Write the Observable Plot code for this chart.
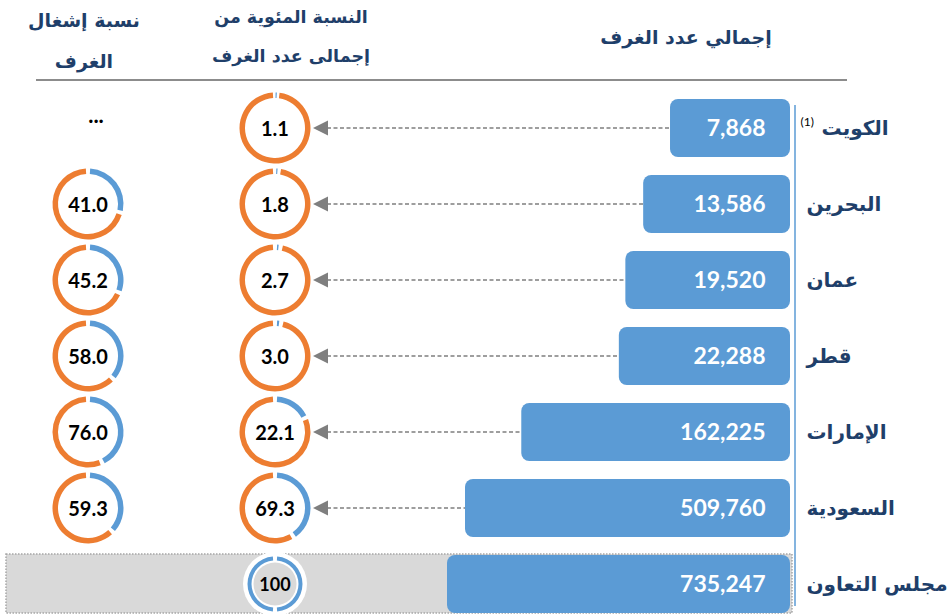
<!DOCTYPE html>
<html>
<head>
<meta charset="utf-8">
<script src="https://cdn.jsdelivr.net/npm/d3@7"></script>
<script src="https://cdn.jsdelivr.net/npm/@observablehq/plot@0.6"></script>
<style>
  body { margin: 0; background: #ffffff; }
  #chart svg { display: block; }
</style>
</head>
<body>
<div id="chart"></div>
<script>
// ---------- data ----------
const countries = ["الكويت", "البحرين", "عمان", "قطر", "الإمارات", "السعودية", "مجلس التعاون"];
const rooms = [7868, 13586, 19520, 22288, 162225, 509760, 735247];
const shareOfTotal = [1.1, 1.8, 2.7, 3.0, 22.1, 69.3, 100];
const shareLabels = ["1.1", "1.8", "2.7", "3.0", "22.1", "69.3", "100"];
const occupancy = [null, 41.0, 45.2, 58.0, 76.0, 59.3, null];
const occupancyLabels = ["...", "41.0", "45.2", "58.0", "76.0", "59.3", ""];
const notes = ["(1)", "", "", "", "", "", ""];
const headerRooms = ["إجمالي عدد الغرف"];
const headerShare = ["النسبة المئوية من", "إجمالى عدد الغرف"];
const headerOccupancy = ["نسبة إشغال", "الغرف"];

const rows = countries.map((c, i) => ({
  country: c, rooms: rooms[i], share: shareOfTotal[i], shareLabel: shareLabels[i],
  occ: occupancy[i], occLabel: occupancyLabels[i], note: notes[i], total: i === countries.length - 1
}));

// ---------- style ----------
const BLUE = "#5B9BD5", ORANGE = "#ED7D31", NAVY = "#1F3F6A", GREY = "#7F7F7F";
const ARABIC = "'DejaVu Sans', sans-serif";
const NUM = "Lato, 'Open Sans', sans-serif";
const base = 685; // origin of the (log) bar scale
const colShareX = 275, colOccX = 88;

function donut(g, cx, cy, v, r0, r1, colors) {
  const slices = d3.pie().sort(null)([v, 100]);
  const rm = (r0 + r1) / 2, gap = 4 / rm;
  const arc = d3.arc().innerRadius(r0).outerRadius(r1);
  slices.forEach((p, i) => {
    let a0 = p.startAngle + gap / 2, a1 = p.endAngle - gap / 2;
    if (a1 - a0 < 0.035) {
      const m = (p.startAngle + p.endAngle) / 2;
      a0 = m - 0.0175; a1 = m + 0.0175;
    }
    g.append("path")
      .attr("transform", `translate(${cx},${cy})`)
      .attr("d", arc({startAngle: a0, endAngle: a1}))
      .attr("fill", colors[i]);
  });
}

function overlay(index, scales) {
  const x = scales.x, y = scales.y;
  const bw = y.bandwidth ? y.bandwidth() : 0;
  const yc = c => y(c) + bw / 2;
  const g = d3.create("svg:g");

  // header rule
  g.append("line").attr("x1", 36).attr("x2", 847).attr("y1", 80).attr("y2", 80)
    .attr("stroke", "#8c8c8c").attr("stroke-width", 2);

  // headers
  const hdr = (lines, cx, ys, size) => lines.forEach((t, i) =>
    g.append("text").attr("x", cx).attr("y", ys[i]).attr("text-anchor", "middle")
      .attr("dominant-baseline", "middle").attr("font-family", ARABIC).attr("font-weight", "bold")
      .attr("font-size", size).attr("fill", NAVY).text(t));
  hdr(headerRooms, 686, [38], 19);
  hdr(headerShare, 291, [18, 57], 17.5);
  hdr(headerOccupancy, 84, [21, 62], 19);

  // total row highlight box
  const tot = rows[rows.length - 1];
  g.append("rect").attr("x", 6).attr("y", y(tot.country) - 1).attr("width", 786).attr("height", bw + 1)
    .attr("fill", "#D9D9D9").attr("stroke", "#A6A6A6").attr("stroke-width", 1.5)
    .attr("stroke-dasharray", "1.5,1.5");

  // vertical axis line
  g.append("line").attr("x1", x(base) + 5).attr("x2", x(base) + 5)
    .attr("y1", 105).attr("y2", 606).attr("stroke", BLUE).attr("stroke-width", 1.5);

  // arrows
  rows.filter(d => !d.total).forEach(d => {
    const cy = yc(d.country);
    const tip = colShareX + 38;
    g.append("line").attr("x1", tip + 14).attr("x2", x(d.rooms) + 8).attr("y1", cy).attr("y2", cy)
      .attr("stroke", GREY).attr("stroke-width", 1.3).attr("stroke-dasharray", "4,2.5");
    g.append("path").attr("d", `M${tip},${cy}L${tip + 15},${cy - 7.5}L${tip + 15},${cy + 7.5}Z`)
      .attr("fill", GREY);
  });

  // share-of-total donuts
  rows.forEach(d => {
    const cy = yc(d.country);
    if (d.total) {
      g.append("circle").attr("cx", colShareX).attr("cy", cy).attr("r", 32).attr("fill", "#ffffff");
      donut(g, colShareX, cy, d.share, 23.5, 27.5, [BLUE, BLUE]);
      g.append("circle").attr("cx", colShareX).attr("cy", cy).attr("r", 21.5).attr("fill", "#D9D9D9");
    } else {
      donut(g, colShareX, cy, d.share, 30, 35.5, [BLUE, ORANGE]);
    }
    g.append("text").attr("x", colShareX).attr("y", cy).attr("text-anchor", "middle")
      .attr("dominant-baseline", "central").attr("font-family", NUM).attr("font-weight", "bold")
      .attr("font-size", d.total ? 18 : 20).attr("fill", "#000").text(d.shareLabel);
  });

  // occupancy donuts
  rows.forEach(d => {
    const cy = yc(d.country);
    if (d.occ != null) {
      donut(g, colOccX, cy, d.occ, 30, 35.5, [BLUE, ORANGE]);
      g.append("text").attr("x", colOccX).attr("y", cy).attr("text-anchor", "middle")
        .attr("dominant-baseline", "central").attr("font-family", NUM).attr("font-weight", "bold")
        .attr("font-size", 20).attr("fill", "#000").text(d.occLabel);
    } else if (d.occLabel) {
      g.append("text").attr("x", colOccX + 8).attr("y", cy - 14).attr("text-anchor", "middle")
        .attr("dominant-baseline", "central").attr("font-family", NUM).attr("font-weight", "bold")
        .attr("font-size", 22).attr("fill", "#000").text(d.occLabel);
    }
  });
  return g.node();
}

const chart = Plot.plot({
  width: 949,
  height: 616,
  margin: 0,
  style: {background: "#ffffff", overflow: "visible"},
  x: {type: "log", domain: [base, 735247], range: [790, 447], axis: null},
  y: {domain: countries, range: [88, 623], paddingInner: 0.24, paddingOuter: 0.12, axis: null},
  marks: [
    overlay,
    Plot.barX(rows, {x1: () => base, x2: "rooms", y: "country", fill: BLUE, rx: 8}),
    Plot.text(rows, {
      x: () => base, y: "country", text: d => d3.format(",")(d.rooms),
      dx: -25, textAnchor: "end", fill: "#ffffff", fontSize: 23, fontWeight: "bold", fontFamily: NUM
    }),
    Plot.text(rows.filter(d => !d.note), {
      x: () => base, y: "country", text: "country", dx: 16, textAnchor: "start",
      fill: NAVY, fontSize: 20, fontWeight: "bold", fontFamily: ARABIC
    }),
    Plot.text(rows.filter(d => d.note), {
      x: () => base, y: "country", text: "country", dx: 31, textAnchor: "start",
      fill: NAVY, fontSize: 20, fontWeight: "bold", fontFamily: ARABIC
    }),
    Plot.text(rows.filter(d => d.note), {
      x: () => base, y: "country", text: "note", dx: 10, dy: -6, textAnchor: "start",
      fill: "#000", fontSize: 12, fontFamily: NUM
    })
  ]
});
document.getElementById("chart").append(chart);
</script>
</body>
</html>
